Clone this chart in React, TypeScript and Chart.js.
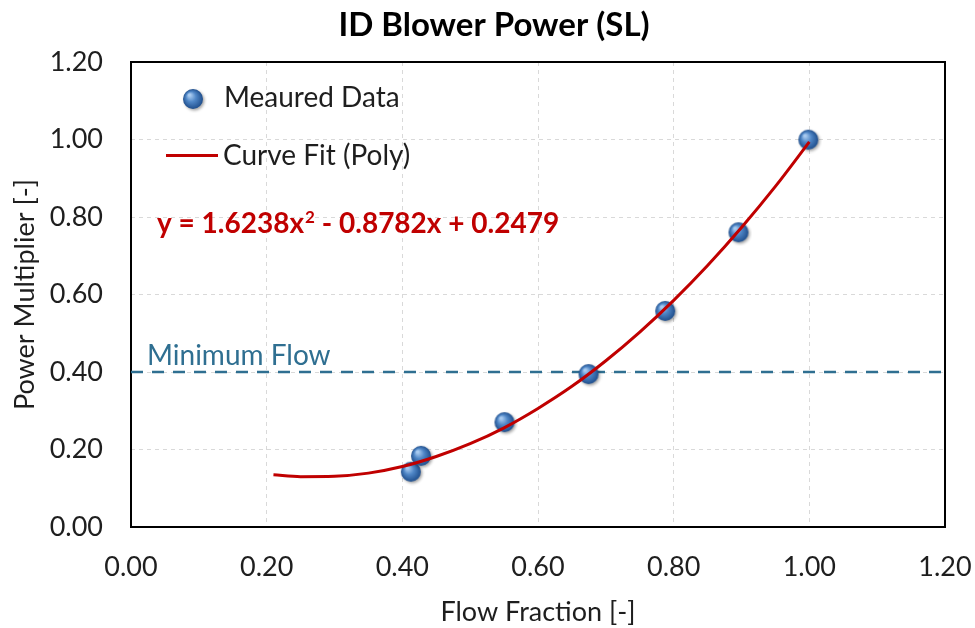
import React, { useEffect, useRef } from 'react';
import { Chart, registerables } from 'chart.js';
Chart.register(...registerables);

const chartTitle = 'ID Blower Power (SL)';
const xTitle = 'Flow Fraction [-]';
const yTitle = 'Power Multiplier [-]';
const measuredLabel = 'Meaured Data';
const fitLabel = 'Curve Fit (Poly)';
const minFlowLabel = 'Minimum Flow';
const equationParts = ['y = 1.6238x', '2', ' - 0.8782x + 0.2479'];

const measuredX = [0.414, 0.429, 0.552, 0.676, 0.789, 0.897, 1.0];
const measuredY = [0.14, 0.181, 0.268, 0.392, 0.555, 0.758, 0.997];

const fitX = [0.21, 0.25, 0.3, 0.35, 0.4, 0.45, 0.5, 0.55, 0.6, 0.65, 0.7, 0.75, 0.8, 0.85, 0.9, 0.95, 1.0];
const fitY = [0.135, 0.13, 0.131, 0.139, 0.156, 0.182, 0.215, 0.256, 0.306, 0.363, 0.429, 0.503, 0.585, 0.675, 0.773, 0.879, 0.994];

const minFlowX = [0, 1.2];
const minFlowY = [0.4, 0.4];

const axisMin = 0;
const axisMax = 1.2;
const axisStep = 0.2;

const FONT = 'Lato, "Open Sans", sans-serif';
const RED = '#C00000';
const TEAL = '#2F6F91';
const TEXT = '#1E1E1E';

function makeSphere(r: number): HTMLCanvasElement {
  const size = r * 2 + 6;
  const c = document.createElement('canvas');
  c.width = size;
  c.height = size;
  const ctx = c.getContext('2d')!;
  const cx = r + 2;
  const cy = r + 2;
  ctx.save();
  ctx.shadowColor = 'rgba(0,0,0,0.35)';
  ctx.shadowBlur = 3;
  ctx.shadowOffsetX = 1.5;
  ctx.shadowOffsetY = 1.5;
  const g = ctx.createRadialGradient(cx - r * 0.35, cy - r * 0.4, r * 0.1, cx, cy, r);
  g.addColorStop(0, '#A9CBF0');
  g.addColorStop(0.45, '#4F86C6');
  g.addColorStop(1, '#1F4E8C');
  ctx.fillStyle = g;
  ctx.beginPath();
  ctx.arc(cx, cy, r, 0, Math.PI * 2);
  ctx.fill();
  ctx.restore();
  return c;
}

export default function App() {
  const ref = useRef<HTMLCanvasElement | null>(null);
  useEffect(() => {
    document.body.style.margin = '0';
    const R = 10;
    const sphere = makeSphere(R);
    const overlay = {
      id: 'overlay',
      beforeDatasetsDraw(chart: any) {
        const { ctx, chartArea } = chart;
        ctx.save();
        ctx.strokeStyle = '#000';
        ctx.lineWidth = 2;
        ctx.strokeRect(chartArea.left, chartArea.top, chartArea.right - chartArea.left, chartArea.bottom - chartArea.top);
        ctx.restore();
      },
      afterDraw(chart: any) {
        const { ctx } = chart;
        ctx.save();
        ctx.textBaseline = 'alphabetic';
        // title
        ctx.fillStyle = '#000';
        ctx.font = `bold 33px ${FONT}`;
        ctx.textAlign = 'center';
        ctx.fillText(chartTitle, 494, 36);
        // legend
        ctx.textAlign = 'left';
        ctx.font = `28px ${FONT}`;
        ctx.drawImage(sphere, 193 - (R + 2), 99 - (R + 2));
        ctx.fillStyle = TEXT;
        ctx.fillText(measuredLabel, 224, 107);
        ctx.strokeStyle = RED;
        ctx.lineWidth = 3;
        ctx.beginPath();
        ctx.moveTo(166, 155.5);
        ctx.lineTo(218, 155.5);
        ctx.stroke();
        ctx.fillText(fitLabel, 223, 165);
        // equation
        ctx.fillStyle = RED;
        ctx.font = `bold 28px ${FONT}`;
        let x = 157;
        const y = 233;
        ctx.fillText(equationParts[0], x, y);
        x += ctx.measureText(equationParts[0]).width + 1;
        ctx.font = `bold 17px ${FONT}`;
        ctx.fillText(equationParts[1], x, y - 10);
        x += ctx.measureText(equationParts[1]).width;
        ctx.font = `bold 28px ${FONT}`;
        ctx.fillText(equationParts[2], x, y);
        // min flow label
        ctx.fillStyle = TEAL;
        ctx.font = `28px ${FONT}`;
        ctx.fillText(minFlowLabel, 147, 365);
        ctx.restore();
      },
    };
    const tickCb = (v: any) => Number(v).toFixed(2);
    const chart = new Chart(ref.current!, {
      type: 'scatter',
      data: {
        datasets: [
          {
            label: fitLabel,
            data: fitX.map((x, i) => ({ x, y: fitY[i] })),
            showLine: true,
            borderColor: RED,
            borderWidth: 3,
            pointRadius: 0,
            tension: 0.4,
            cubicInterpolationMode: 'monotone',
          } as any,
          {
            label: measuredLabel,
            data: measuredX.map((x, i) => ({ x, y: measuredY[i] })),
            pointStyle: sphere,
            pointRadius: R,
            showLine: false,
          } as any,
          {
            label: minFlowLabel,
            data: minFlowX.map((x, i) => ({ x, y: minFlowY[i] })),
            showLine: true,
            borderColor: TEAL,
            borderWidth: 2.5,
            borderDash: [12, 9],
            pointRadius: 0,
          } as any,
        ],
      },
      options: {
        animation: false,
        responsive: false,
        maintainAspectRatio: false,
        layout: { padding: { top: 62, right: 3, left: 0, bottom: 0 } },
        plugins: { legend: { display: false }, tooltip: { enabled: false }, title: { display: false } },
        scales: {
          x: {
            type: 'linear',
            min: axisMin,
            max: axisMax,
            ticks: { stepSize: axisStep, callback: tickCb, color: TEXT, font: { family: FONT, size: 27 }, padding: 24 },
            grid: { color: '#D9D9D9', drawTicks: false, lineWidth: 1 },
            border: { display: false, dash: [4, 4] },
            title: { display: true, text: xTitle, color: TEXT, font: { family: FONT, size: 27 }, padding: { top: 1, bottom: 0 } },
            afterFit: (s: any) => { s.height = 101; s.paddingRight = 30; },
          },
          y: {
            type: 'linear',
            min: axisMin,
            max: axisMax,
            ticks: { stepSize: axisStep, callback: tickCb, color: TEXT, font: { family: FONT, size: 27 }, padding: 28 },
            grid: { color: '#D9D9D9', drawTicks: false, lineWidth: 1 },
            border: { display: false, dash: [4, 4] },
            title: { display: true, text: yTitle, color: TEXT, font: { family: FONT, size: 27 }, padding: { top: 9, bottom: 0 } },
            afterFit: (s: any) => { s.width = 131; },
          },
        },
      },
      plugins: [overlay],
    });
    return () => chart.destroy();
  }, []);
  return (
    <div style={{ width: 975, height: 628 }}>
      <canvas ref={ref} width={975} height={628} style={{ display: 'block', width: 975, height: 628 }} />
    </div>
  );
}
